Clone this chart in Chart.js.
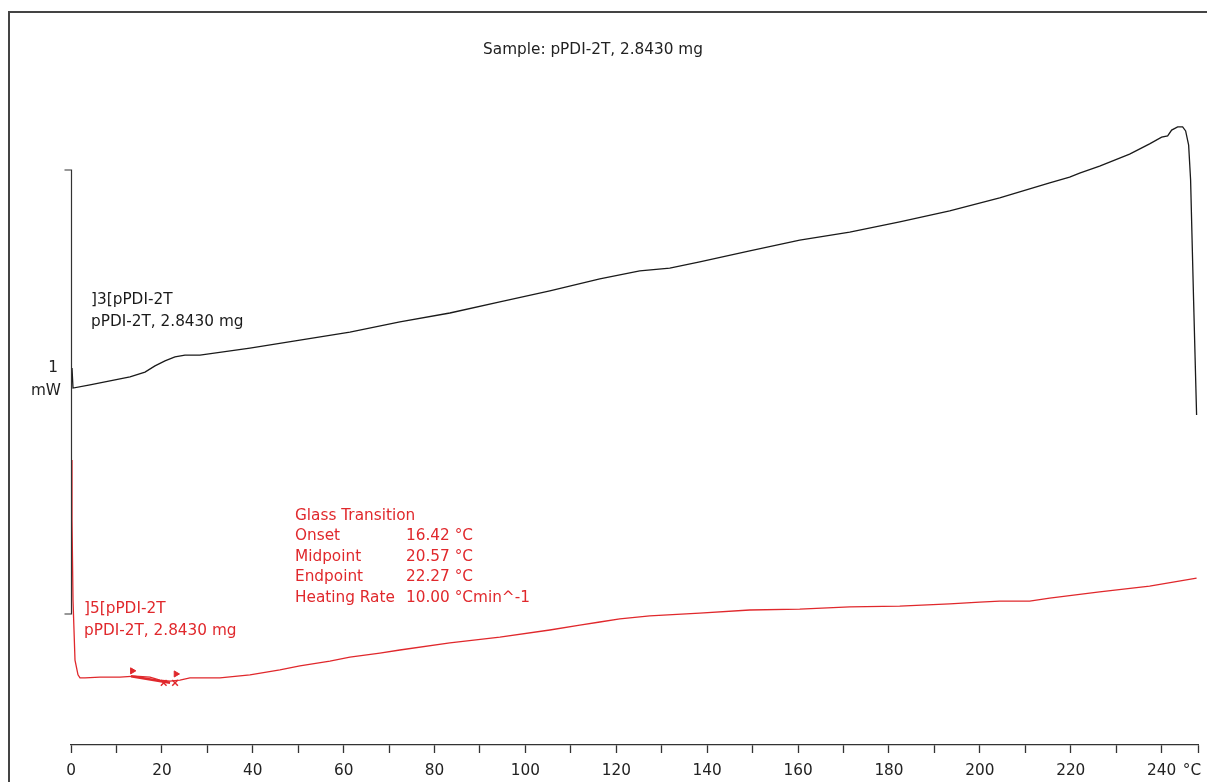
<!DOCTYPE html>
<html>
<head>
<meta charset="utf-8">
<title>DSC pPDI-2T</title>
<script src="https://cdn.jsdelivr.net/npm/chart.js@4.4.1/dist/chart.umd.min.js"></script>
<style>
  html, body { margin: 0; padding: 0; background: #fff; }
  canvas { display: block; }
</style>
</head>
<body>
<canvas id="dsc" width="1207" height="782"></canvas>
<script>
// temperatures in °C, heat flow in mW (arbitrary offset)
const heatingT = [0.22, 0.44, 4.18, 8.58, 12.98, 16.28, 18.48, 20.68, 22.88, 25.08, 28.38, 39.38, 50.37, 61.37, 72.37,
  83.37, 94.37, 105.37, 116.37, 125.16, 131.76, 138.36, 149.36, 160.36, 171.36, 182.36, 193.36, 204.36, 215.36,
  219.75, 221.95, 226.35, 232.95, 237.35, 240.0, 241.32, 242.2, 243.52, 244.62, 245.28, 245.94, 246.37, 247.03, 247.69];
const heatingMW = [0.849, 0.804, 0.811, 0.820, 0.829, 0.840, 0.854, 0.865, 0.874, 0.878, 0.878, 0.894, 0.912, 0.930, 0.953,
  0.973, 0.998, 1.023, 1.050, 1.068, 1.074, 1.088, 1.113, 1.137, 1.155, 1.178, 1.203, 1.232, 1.266,
  1.279, 1.288, 1.304, 1.331, 1.354, 1.369, 1.372, 1.385, 1.392, 1.392, 1.383, 1.351, 1.273, 1.002, 0.743];

const secondT = [0, 0.22, 0.44, 0.88, 1.54, 1.98, 3.08, 6.38, 10.78, 14.08, 17.38, 19.58, 21.78, 23.98, 26.18, 28.38,
  32.78, 39.38, 45.97, 50.37, 56.97, 61.37, 67.97, 72.37, 83.37, 94.37, 105.37, 111.97, 116.37, 120.77, 127.36,
  138.36, 149.36, 160.36, 171.36, 182.36, 193.36, 199.96, 204.36, 210.96, 215.36, 226.35, 237.35, 247.69];
const secondMW = [0.642, 0.507, 0.327, 0.191, 0.158, 0.151, 0.151, 0.153, 0.153, 0.155, 0.153, 0.146, 0.144, 0.146, 0.151, 0.151,
  0.151, 0.158, 0.169, 0.178, 0.189, 0.198, 0.207, 0.214, 0.230, 0.243, 0.259, 0.270, 0.277, 0.284, 0.291,
  0.297, 0.304, 0.306, 0.311, 0.313, 0.318, 0.322, 0.324, 0.324, 0.331, 0.345, 0.358, 0.376];

// glass transition evaluation marks
const tangentT = [13.2, 21.8];
const tangentMW = [0.155, 0.140];
const flagT = [13.5, 23.1];
const flagMW = [0.167, 0.160];
const crossT = [20.4, 22.9];
const crossMW = [0.140, 0.140];

const scaleBarMW = [0.295, 1.295];   // 1 mW scale bar
const tickValues = [0, 10, 20, 30, 40, 50, 60, 70, 80, 90, 100, 110, 120, 130, 140, 150, 160, 170,
  180, 190, 200, 210, 220, 230, 240, 248];
const tickLabels = ["0", "", "20", "", "40", "", "60", "", "80", "", "100", "", "120", "", "140", "", "160", "",
  "180", "", "200", "", "220", "", "240", ""];
const tMin = 0;
const tMax = 248;

const title = "Sample: pPDI-2T, 2.8430 mg";
const curveLabels = [
  { lines: ["]3[pPDI-2T", "pPDI-2T, 2.8430 mg"], color: "#1a1a1a" },
  { lines: ["]5[pPDI-2T", "pPDI-2T, 2.8430 mg"], color: "#e0282c" },
];
const gtNames = ["Glass Transition", "Onset", "Midpoint", "Endpoint", "Heating Rate"];
const gtValues = ["", "16.42 °C", "20.57 °C", "22.27 °C", "10.00 °Cmin^-1"];

const BLACK = "#1a1a1a";
const RED = "#e0282c";
const FONT_SIZE = 15.3;
const FONT = FONT_SIZE + "px 'DejaVu Sans', sans-serif";

const pts = (xs, ys) => xs.map((x, i) => ({ x, y: ys[i] }));

const decorations = {
  id: "decorations",
  beforeDraw(chart) {
    const ctx = chart.ctx;
    ctx.save();
    ctx.fillStyle = "#fff";
    ctx.fillRect(0, 0, chart.width, chart.height);
    // outer frame (left + top)
    ctx.strokeStyle = "#444";
    ctx.lineWidth = 2;
    ctx.beginPath();
    ctx.moveTo(9, chart.height);
    ctx.lineTo(9, 12);
    ctx.lineTo(chart.width, 12);
    ctx.stroke();
    ctx.restore();
  },
  afterDatasetsDraw(chart) {
    const ctx = chart.ctx;
    const xs = chart.scales.x, ys = chart.scales.y;
    ctx.save();

    // scale bar
    const bx = Math.round(xs.getPixelForValue(0)) + 0.5;
    const yTop = ys.getPixelForValue(scaleBarMW[1]);
    const yBot = ys.getPixelForValue(scaleBarMW[0]);
    ctx.strokeStyle = "#333";
    ctx.lineWidth = 1.2;
    ctx.beginPath();
    ctx.moveTo(bx - 7, yTop);
    ctx.lineTo(bx, yTop);
    ctx.lineTo(bx, yBot);
    ctx.lineTo(bx - 7, yBot);
    ctx.stroke();

    ctx.font = FONT;
    ctx.textBaseline = "middle";
    ctx.fillStyle = "#222";
    ctx.textAlign = "right";
    ctx.fillText("1", 58, 368);
    ctx.fillText("mW", 61, 391);

    // title
    ctx.textAlign = "center";
    ctx.fillText(title, 593, 50);

    // unit at end of axis
    ctx.fillText("°C", 1192, 771);

    // curve labels
    ctx.textAlign = "left";
    const lblPos = [[91, 300], [84, 609]];
    curveLabels.forEach((c, i) => {
      ctx.fillStyle = c.color;
      c.lines.forEach((s, j) => ctx.fillText(s, lblPos[i][0], lblPos[i][1] + j * 22));
    });

    // glass transition results
    ctx.fillStyle = RED;
    gtNames.forEach((s, i) => {
      const y = 516 + i * 20.5;
      ctx.fillText(s, 295, y);
      if (gtValues[i]) ctx.fillText(gtValues[i], 406, y);
    });
    ctx.restore();
  }
};

new Chart(document.getElementById("dsc"), {
  type: "scatter",
  data: {
    datasets: [
      { data: pts(heatingT, heatingMW), showLine: true, borderColor: BLACK, borderWidth: 1.3, pointRadius: 0, tension: 0 },
      { data: pts(secondT, secondMW), showLine: true, borderColor: RED, borderWidth: 1.3, pointRadius: 0, tension: 0 },
      { data: pts(tangentT, tangentMW), showLine: true, borderColor: RED, borderWidth: 2.5, pointRadius: 0 },
      { data: pts(flagT, flagMW), showLine: false, pointStyle: "triangle", rotation: 90, pointRadius: 3.5,
        backgroundColor: RED, borderColor: RED },
      { data: pts(crossT, crossMW), showLine: false, pointStyle: "crossRot", pointRadius: 4,
        borderColor: RED, borderWidth: 1.5 },
    ],
  },
  options: {
    responsive: false,
    animation: false,
    devicePixelRatio: 1,
    layout: { padding: { left: 71, right: 9, top: 79, bottom: 0 } },
    plugins: { legend: { display: false }, tooltip: { enabled: false } },
    scales: {
      x: {
        type: "linear",
        min: tMin,
        max: tMax,
        afterBuildTicks(scale) { scale.ticks = tickValues.map(v => ({ value: v })); },
        afterFit(scale) { scale.height = 37; },
        border: { display: true, color: "#333", width: 1.3 },
        grid: { drawOnChartArea: false, drawTicks: true, tickLength: 8, color: "#333", tickWidth: 1.3 },
        ticks: {
          autoSkip: false,
          maxRotation: 0,
          padding: 9,
          color: "#222",
          font: { family: "'DejaVu Sans', sans-serif", size: FONT_SIZE },
          callback: (v, i) => tickLabels[i],
        },
      },
      y: { type: "linear", display: false, min: 0, max: 1.5 },
    },
  },
  plugins: [decorations],
});
</script>
</body>
</html>
